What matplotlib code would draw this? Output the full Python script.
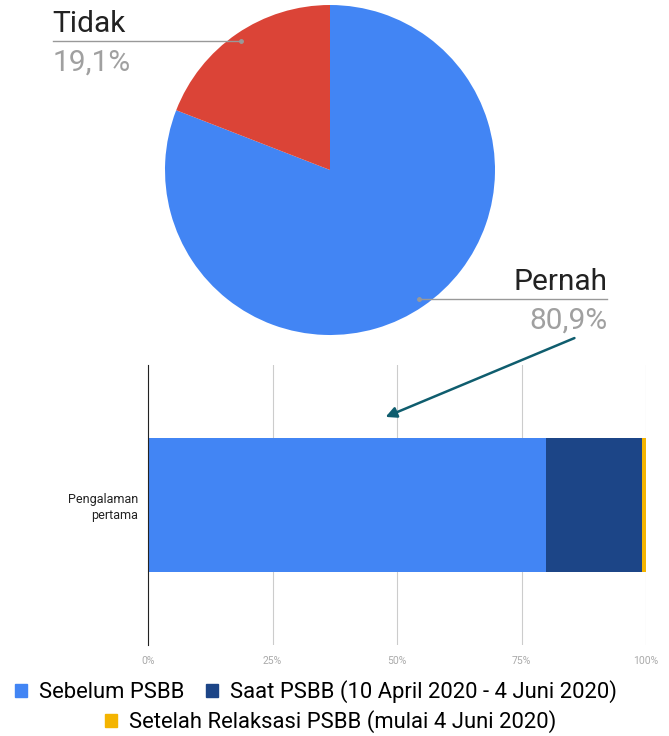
import matplotlib.pyplot as plt
import numpy as np
from matplotlib.patches import Patch

plt.rcParams['font.family'] = ['Roboto', 'DejaVu Sans']

# pie data
pie_labels = ['Pernah', 'Tidak']
pie_values = [80.9, 19.1]
pie_colors = ['#4285f4', '#db4437']

# bar data
bar_category = 'Pengalaman\npertama'
bar_series = ['Sebelum PSBB', 'Saat PSBB (10 April 2020 - 4 Juni 2020)',
              'Setelah Relaksasi PSBB (mulai 4 Juni 2020)']
bar_values = [80.0, 19.2, 0.8]
bar_colors = ['#4285f4', '#1c4587', '#f4b400']
xticks = [0, 25, 50, 75, 100]
xtick_labels = ['0%', '25%', '50%', '75%', '100%']

W, H = 669, 736
fig = plt.figure(figsize=(W / 100, H / 100), dpi=100)

# ---- pie ----
cx, cy, r = 330, 170, 165
ax1 = fig.add_axes([(cx - r) / W, 1 - (cy + r) / H, 2 * r / W, 2 * r / H])
ax1.pie(pie_values, colors=pie_colors, startangle=90, counterclock=False,
        radius=1, wedgeprops=dict(linewidth=0))
ax1.set_xlim(-1, 1)
ax1.set_ylim(-1, 1)
ax1.set_aspect('auto')
ax1.axis('off')

# leader lines + labels
start = 90
for lab, val in zip(pie_labels, pie_values):
    span = val / 100 * 360
    mid = np.radians(start - span / 2)
    start -= span
    dx, dy = 0.95 * np.cos(mid), 0.95 * np.sin(mid)
    side = 1 if dx > 0 else -1
    xend = 1.68 * side
    ax1.plot([dx, xend], [dy, dy], color='#999999', lw=1, clip_on=False)
    ax1.plot([dx], [dy], 'o', color='#999999', ms=2.5, clip_on=False)
    ha = 'right' if side > 0 else 'left'
    pct = ('%.1f%%' % val).replace('.', ',')
    ax1.text(xend, dy + 0.055, lab, ha=ha, va='baseline', fontsize=21.5,
             color='#222222', clip_on=False)
    ax1.text(xend, dy - 0.18, pct, ha=ha, va='baseline', fontsize=21.5,
             color='#a0a0a0', clip_on=False)

# ---- stacked bar ----
ax2 = fig.add_axes([148 / W, 1 - 645 / H, 498 / W, 280 / H])
left = 0
for name, val, col in zip(bar_series, bar_values, bar_colors):
    ax2.barh([0], [val], left=left, height=0.48, color=col, label=name,
             zorder=3)
    left += val
ax2.set_xlim(0, 100)
ax2.set_ylim(-0.5, 0.5)
ax2.set_xticks(xticks)
ax2.set_xticklabels(xtick_labels, fontsize=7.5, color='#aaaaaa')
ax2.tick_params(axis='both', length=0)
ax2.set_yticks([0])
ax2.set_yticklabels([bar_category], fontsize=9, color='#222222',
                    multialignment='right')
ax2.tick_params(axis='x', pad=8)
ax2.tick_params(axis='y', pad=7)
ax2.grid(axis='x', color='#cccccc', lw=0.8, zorder=0)
for s in ['top', 'right', 'bottom']:
    ax2.spines[s].set_visible(False)
ax2.spines['left'].set_color('#222222')
ax2.spines['left'].set_zorder(4)

# arrow from pie label down to the bar
ax2.annotate('', xy=(383 / W, 1 - 418 / H), xycoords='figure fraction',
             xytext=(577 / W, 1 - 337 / H), textcoords='figure fraction',
             arrowprops=dict(arrowstyle='-|>', color='#0f5d6e', lw=1.8,
                             mutation_scale=16))

# legend (two rows)
handles = [Patch(color=c) for c in bar_colors]
leg_kw = dict(frameon=False, fontsize=15.8, handlelength=0.55,
              handleheight=0.55, handletextpad=0.55, columnspacing=1.0,
              borderpad=0)
fig.legend(handles[:2], bar_series[:2], loc='center', ncol=2,
           bbox_to_anchor=(316 / W, 1 - 692 / H), **leg_kw)
fig.legend(handles[2:], bar_series[2:], loc='center', ncol=1,
           bbox_to_anchor=(331 / W, 1 - 722 / H), **leg_kw)

fig.savefig('out.png', dpi=100)
